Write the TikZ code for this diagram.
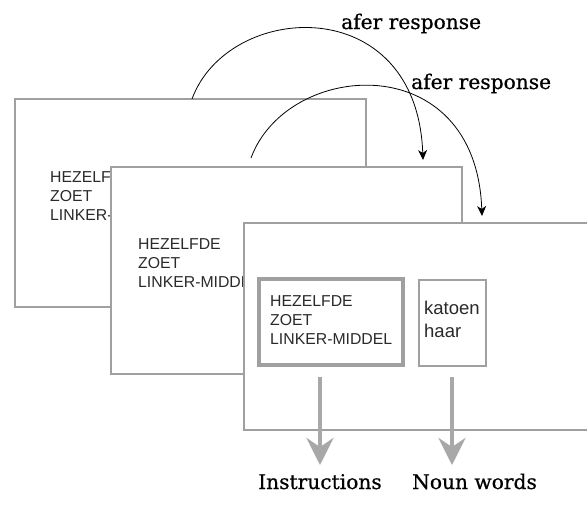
\documentclass[tikz,border=0pt]{standalone}
\usepackage{fontspec}
\setmainfont{Liberation Sans}
\newfontfamily\labelfont[FakeBold=0.6]{DejaVu Serif}
\usetikzlibrary{arrows.meta,calc}

\definecolor{edgegray}{HTML}{A0A0A0}
\definecolor{flowgray}{HTML}{A8A8A8}
\definecolor{inkgray}{HTML}{2A2A2A}

\tikzset{
  card/.style={draw=edgegray, line width=1.6pt, fill=white},
  % anchored on the baseline of the last line
  wordlist/.style={anchor=base west, inner sep=0pt, font=\fontsize{15.8}{19}\selectfont,
    text=inkgray, align=left},
  caption/.style={anchor=base west, inner sep=0pt, font=\labelfont\fontsize{20.2}{24}\selectfont},
  respond/.style={-{Stealth[length=10pt,width=9pt,inset=3pt]}, line width=0.8pt, black},
  outflow/.style={-{Stealth[length=27pt,width=27pt,inset=9pt]}, line width=4pt, flowgray},
}

\begin{document}
\begin{tikzpicture}[x=1pt,y=-1pt]
\useasboundingbox[fill=white] (0,0) rectangle (587,514);

% first card
\draw[card] (15,99) rectangle (366,307);
\node[wordlist] (w1) at (50,220) {HEZELFDE\\ZOET\\LINKER-MIDDEL};

% second card
\draw[card] (111,167) rectangle (462,374);
\node[wordlist] (w2) at (138,287) {HEZELFDE\\ZOET\\LINKER-MIDDEL};

% third card, running past the right margin
\draw[card] (244,223) rectangle (600,430);

% word groups on the third card
\draw[draw=edgegray, line width=3.6pt] (259,279) rectangle (403,365);
\node[wordlist] (instr) at (270,344) {HEZELFDE\\ZOET\\LINKER-MIDDEL};
\draw[draw=edgegray, line width=2pt] (418.5,279.5) rectangle (485.5,365.5);
\node[wordlist, font=\fontsize{18.5}{22.5}\selectfont] (nouns) at (424,337) {katoen\\haar};

% response links between cards
\coordinate (r1s) at (192,99);
\coordinate (r1e) at (423,160);
\coordinate (r2s) at (251,158);
\coordinate (r2e) at (482,216);
\draw[respond] (r1s) .. controls ($(r1s)+(36,-98)$) and ($(r1e)+(-6,-170)$) .. (r1e);
\draw[respond] (r2s) .. controls ($(r2s)+(36,-98)$) and ($(r2e)+(-6,-170)$) .. (r2e);
\node[caption] (c1) at (341,29) {afer response};
\node[caption] (c2) at (411,89) {afer response};

% outputs
\node[caption] (out1) at (258,489) {Instructions};
\node[caption] (out2) at (412,489) {Noun words};
\coordinate (o1s) at (320,377);
\coordinate (o2s) at (452,377);
\draw[outflow] (o1s) -- (o1s |- 0,465);
\draw[outflow] (o2s) -- (o2s |- 0,465);
\end{tikzpicture}
\end{document}
